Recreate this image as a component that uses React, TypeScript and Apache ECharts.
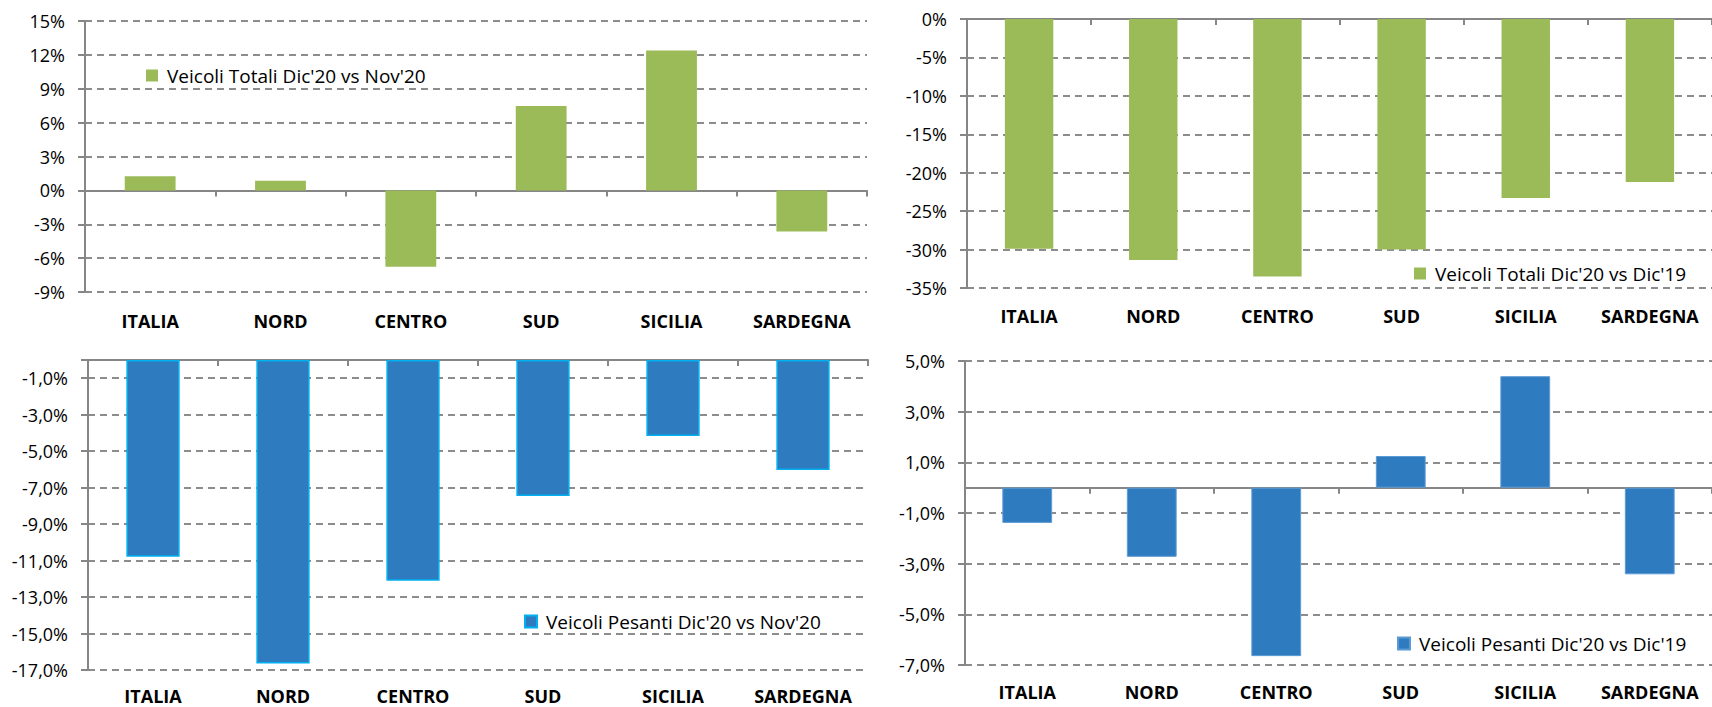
import React, { useEffect, useRef } from "react";
import * as echarts from "echarts";

const categories = ["ITALIA", "NORD", "CENTRO", "SUD", "SICILIA", "SARDEGNA"];

const totaliNovName = "Veicoli Totali Dic'20 vs Nov'20";
const totaliNov = [1.24, 0.85, -6.76, 7.47, 12.38, -3.65];

const totaliDicName = "Veicoli Totali Dic'20 vs Dic'19";
const totaliDic = [-29.9, -31.35, -33.5, -30.0, -23.3, -21.2];

const pesantiNovName = "Veicoli Pesanti Dic'20 vs Nov'20";
const pesantiNov = [-10.79, -16.64, -12.1, -7.46, -4.17, -6.03];

const pesantiDicName = "Veicoli Pesanti Dic'20 vs Dic'19";
const pesantiDic = [-1.39, -2.73, -6.65, 1.25, 4.4, -3.42];

// y axis scales: [min, max, interval]
const scaleTL = [-9, 15, 3];
const scaleTR = [-35, 0, 5];
const scaleBL = [-17, 0, 2];
const scaleBR = [-7, 5, 2];

const FONT = "'Open Sans', 'DejaVu Sans', sans-serif";
const AXIS = "#868686";
const GRID = "#8c8c8c";
const GREEN = "#9bbb59";
const BLUE = "#2f7bbf";

export default function App() {
  const ref = useRef<HTMLDivElement>(null);

  useEffect(() => {
    if (!ref.current) return;
    const chart = echarts.init(ref.current, undefined, { renderer: "svg" });

    const grids = [
      { left: 85, top: 21, width: 782, height: 271 },
      { left: 967, top: 19, width: 750, height: 269 },
      { left: 88, top: 360, width: 780, height: 310 },
      { left: 965, top: 361, width: 757, height: 304 },
    ];
    const labelMargins = [20, 19, 17, 18];
    const scales = [scaleTL, scaleTR, scaleBL, scaleBR];
    const pct = (v: number) => `${v}%`;
    const pctComma = (v: number) => (v === 0 ? "" : `${v.toFixed(1).replace(".", ",")}%`);
    const formatters = [pct, pct, pctComma, pctComma];

    const xAxis: any[] = [];
    const yAxis: any[] = [];
    grids.forEach((_, i) => {
      xAxis.push({
        type: "category",
        gridIndex: i,
        data: categories,
        position: "bottom",
        axisLine: { show: true, onZero: true, lineStyle: { color: AXIS, width: 2 } },
        axisTick: { show: true, length: 6, lineStyle: { color: AXIS, width: 2 } },
        axisLabel: { show: false },
        splitLine: { show: false },
      });
      xAxis.push({
        type: "category",
        gridIndex: i,
        data: categories,
        position: "bottom",
        axisLine: { show: false, onZero: false },
        axisTick: { show: false },
        axisLabel: {
          show: true,
          interval: 0,
          hideOverlap: false,
          margin: labelMargins[i],
          color: "#000",
          fontFamily: FONT,
          fontWeight: "bold",
          fontSize: 18,
          lineHeight: 18,
        },
        splitLine: { show: false },
      });
      const [min, max, interval] = scales[i];
      yAxis.push({
        type: "value",
        gridIndex: i,
        min,
        max,
        interval,
        axisLine: { show: true, lineStyle: { color: AXIS, width: 2 } },
        axisTick: { show: true, length: 7, lineStyle: { color: AXIS, width: 2 } },
        axisLabel: {
          margin: 20,
          color: "#000",
          fontFamily: FONT,
          fontSize: 18,
          formatter: formatters[i],
        },
        splitLine: {
          show: true,
          lineStyle: { color: GRID, width: 2, type: [7, 5] },
        },
      });
    });

    const legendBase = {
      itemWidth: 12,
      itemHeight: 12,
      icon: "rect",
      orient: "horizontal",
      selectedMode: false,
      textStyle: {
        color: "#000",
        fontFamily: FONT,
        fontSize: 19,
        padding: [0, 0, 0, 4],
      },
    };

    const option: any = {
      animation: false,
      backgroundColor: "#fff",
      grid: grids,
      xAxis,
      yAxis,
      legend: [
        { ...legendBase, data: [totaliNovName], left: 141, top: 61 },
        { ...legendBase, data: [totaliDicName], left: 1409, top: 259 },
        { ...legendBase, data: [pesantiNovName], left: 519, top: 607 },
        { ...legendBase, data: [pesantiDicName], left: 1392, top: 629 },
      ],
      series: [
        {
          name: totaliNovName,
          type: "bar",
          xAxisIndex: 0,
          yAxisIndex: 0,
          data: totaliNov,
          barWidth: "39%",
          itemStyle: { color: GREEN },
        },
        {
          name: totaliDicName,
          type: "bar",
          xAxisIndex: 2,
          yAxisIndex: 1,
          data: totaliDic,
          barWidth: "39%",
          itemStyle: { color: GREEN },
        },
        {
          name: pesantiNovName,
          type: "bar",
          xAxisIndex: 4,
          yAxisIndex: 2,
          data: pesantiNov,
          barWidth: "41%",
          itemStyle: { color: BLUE, borderColor: "#00b0f0", borderWidth: 1.5 },
        },
        {
          name: pesantiDicName,
          type: "bar",
          xAxisIndex: 6,
          yAxisIndex: 3,
          data: pesantiDic,
          barWidth: "40%",
          itemStyle: { color: BLUE, borderColor: "#5b9bd5", borderWidth: 1 },
        },
      ],
    };

    chart.setOption(option);
    return () => chart.dispose();
  }, []);

  return (
    <div
      ref={ref}
      style={{ position: "absolute", left: 0, top: 0, width: 1712, height: 707 }}
    />
  );
}
